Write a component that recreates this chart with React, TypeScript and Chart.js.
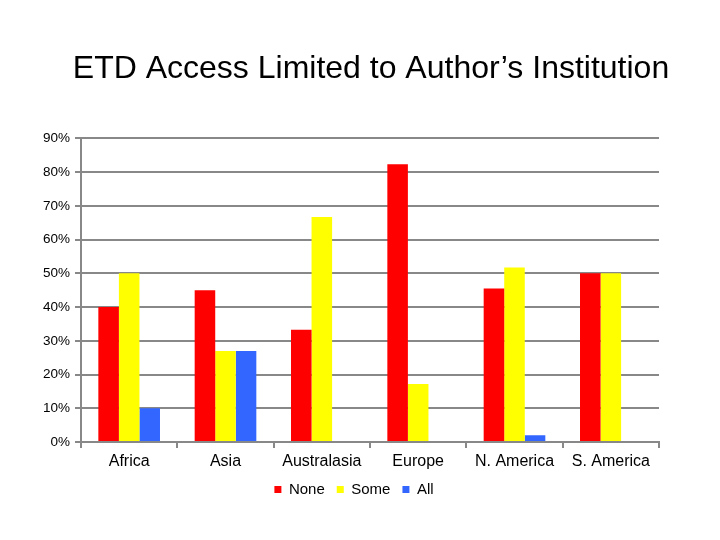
import React, { useEffect, useRef } from "react";
import { Chart, registerables } from "chart.js";

Chart.register(...registerables);

const categories = ["Africa", "Asia", "Australasia", "Europe", "N. America", "S. America"];
const noneValues = [40, 45, 33.3, 82.3, 45.5, 50];
const someValues = [50, 27, 66.7, 17.2, 51.7, 50];
const allValues = [10, 27, 0, 0, 2, 0];
const seriesNames = ["None", "Some", "All"];
const seriesColors = ["#FF0000", "#FFFF00", "#3366FF"];
const yMax = 90;
const yStep = 10;
const titleText = "ETD Access Limited to Author\u2019s Institution";

const FONT = "'Liberation Sans', Arial, Helvetica, sans-serif";

const legendShift = {
  id: "legendShift",
  afterLayout(chart: any) {
    const lg = chart.legend;
    if (lg) {
      lg.left -= 17;
      lg.right -= 17;
    }
  },
};

export default function App() {
  const ref = useRef<HTMLCanvasElement | null>(null);
  useEffect(() => {
    if (!ref.current) return;
    const gridColor = "#888888";
    const chart = new Chart(ref.current, {
      type: "bar",
      data: {
        labels: categories,
        datasets: [noneValues, someValues, allValues].map((d, i) => ({
          label: seriesNames[i],
          data: d,
          backgroundColor: seriesColors[i],
          borderWidth: 0,
          barPercentage: 1.0,
          categoryPercentage: 0.64,
          yAxisID: "y",
        })),
      },
      plugins: [legendShift],
      options: {
        animation: false,
        responsive: false,
        maintainAspectRatio: false,
        layout: { padding: { left: 22, right: 0, top: 0, bottom: 33 } },
        plugins: {
          tooltip: { enabled: false },
          title: {
            display: true,
            text: titleText,
            fullSize: true,
            color: "#000",
            font: { family: FONT, size: 32, weight: "normal", lineHeight: 1.2 },
            padding: { top: 50, bottom: 50 },
          },
          legend: {
            position: "bottom",
            labels: {
              color: "#000",
              boxWidth: 7,
              boxHeight: 7,
              padding: 12,
              font: { family: FONT, size: 15 },
            },
          },
        },
        scales: {
          x: {
            grid: {
              offset: true,
              drawOnChartArea: false,
              drawTicks: true,
              tickLength: 6,
              color: gridColor,
              lineWidth: 2,
            },
            border: { display: true, color: gridColor, width: 2 },
            ticks: {
              color: "#000",
              padding: 4,
              maxRotation: 0,
              font: { family: FONT, size: 16 },
            },
            afterFit: (s: any) => {
              s.height = 28;
            },
          },
          y: {
            min: 0,
            max: yMax,
            ticks: {
              stepSize: yStep,
              color: "#000",
              padding: 5,
              font: { family: FONT, size: 13.5 },
              callback: (v: any) => v + "%",
            },
            grid: {
              color: gridColor,
              lineWidth: 2,
              drawTicks: true,
              tickLength: 6,
            },
            border: { display: true, color: gridColor, width: 2 },
            afterFit: (s: any) => {
              s.width = 59;
            },
          },
          y2: {
            position: "right",
            display: true,
            ticks: { display: false },
            grid: { display: false, drawTicks: false },
            border: { display: false },
            afterFit: (s: any) => {
              s.width = 61;
            },
          },
        },
      } as any,
    });
    return () => chart.destroy();
  }, []);
  return (
    <div style={{ position: "fixed", left: 0, top: 0, width: 720, height: 540, background: "#fff" }}>
      <canvas ref={ref} width={720} height={540} style={{ width: 720, height: 540 }} />
    </div>
  );
}
